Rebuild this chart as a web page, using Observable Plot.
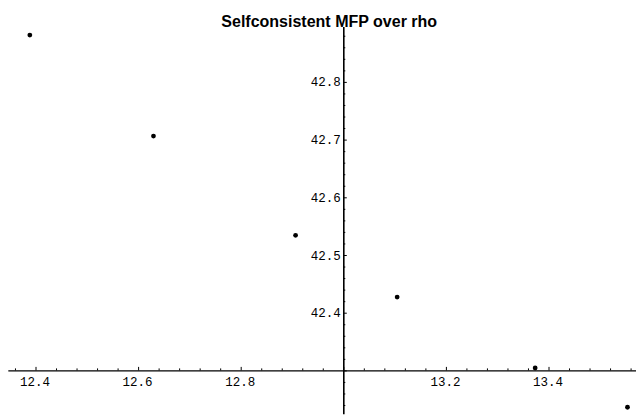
<!DOCTYPE html>
<html>
<head>
<meta charset="utf-8">
<script src="https://cdn.jsdelivr.net/npm/d3@7"></script>
<script src="https://cdn.jsdelivr.net/npm/@observablehq/plot@0.6"></script>
<style>
  html, body { margin: 0; padding: 0; background: #fff; }
  #chart svg { display: block; }
</style>
</head>
<body>
<div id="chart"></div>
<script>
// Data
const title = "Selfconsistent MFP over rho";
const rho = [12.388, 12.629, 12.906, 13.104, 13.373, 13.553];
const mfp = [42.882, 42.707, 42.535, 42.428, 42.305, 42.237];

// Axes (crossing at rho = 13.0, MFP = 42.3)
const axisOrigin = {x: 13.0, y: 42.3};
const xAxisExtent = [12.347, 13.575];
const yAxisExtent = [42.224, 42.895];
const xTickLabels = [12.4, 12.6, 12.8, 13.2, 13.4];
const xMajorTicks = [12.4, 12.6, 12.8, 13.0, 13.2, 13.4];
const xMinorTicks = [12.36, 12.44, 12.48, 12.52, 12.56, 12.64, 12.68, 12.72, 12.76, 12.84, 12.88, 12.92, 12.96,
                     13.04, 13.08, 13.12, 13.16, 13.24, 13.28, 13.32, 13.36, 13.44, 13.48, 13.52, 13.56];
const yTickLabels = [42.4, 42.5, 42.6, 42.7, 42.8];
const yMajorTicks = [42.3, 42.4, 42.5, 42.6, 42.7, 42.8];
const yMinorTicks = [42.24, 42.26, 42.28, 42.32, 42.34, 42.36, 42.38, 42.42, 42.44, 42.46, 42.48,
                     42.52, 42.54, 42.56, 42.58, 42.62, 42.64, 42.66, 42.68, 42.72, 42.74, 42.76, 42.78,
                     42.82, 42.84, 42.86, 42.88];

const points = rho.map((r, i) => ({rho: r, mfp: mfp[i]}));

// scale geometry (pixels per unit)
const xPx = 513, yPx = 577;
const xRange0 = 343.3, yRange0 = 370.4;

const mono = "'Liberation Mono', 'Courier New', monospace";

const chart = Plot.plot({
  width: 636,
  height: 417,
  margin: 0,
  style: {background: "#fff", color: "#000"},
  x: {type: "linear", domain: [13, 14], range: [xRange0, xRange0 + xPx], axis: null},
  y: {type: "linear", domain: [42.3, 43.3], range: [yRange0, yRange0 - yPx], axis: null},
  marks: [
    // axis lines
    Plot.ruleY([axisOrigin.y], {x1: xAxisExtent[0], x2: xAxisExtent[1], stroke: "#000", strokeWidth: 1.4}),
    Plot.ruleX([axisOrigin.x], {y1: yAxisExtent[0], y2: yAxisExtent[1], stroke: "#000", strokeWidth: 1.6}),
    // x ticks (upward)
    Plot.ruleX(xMajorTicks, {x: d => d, y1: axisOrigin.y, y2: axisOrigin.y + 3.5 / yPx, stroke: "#000", strokeWidth: 1}),
    Plot.ruleX(xMinorTicks, {x: d => d, y1: axisOrigin.y, y2: axisOrigin.y + 2 / yPx, stroke: "#000", strokeWidth: 1}),
    // y ticks (rightward)
    Plot.ruleY(yMajorTicks, {y: d => d, x1: axisOrigin.x, x2: axisOrigin.x + 3.5 / xPx, stroke: "#000", strokeWidth: 1}),
    Plot.ruleY(yMinorTicks, {y: d => d, x1: axisOrigin.x, x2: axisOrigin.x + 2 / xPx, stroke: "#000", strokeWidth: 1}),
    // tick labels
    Plot.text(xTickLabels, {x: d => d, y: axisOrigin.y, text: d => d.toFixed(1), dy: 11, dx: -1,
      fontFamily: mono, fontSize: 12.5, fill: "#000"}),
    Plot.text(yTickLabels, {y: d => d, x: axisOrigin.x, text: d => d.toFixed(1), dx: -3, textAnchor: "end",
      fontFamily: mono, fontSize: 12.5, fill: "#000"}),
    // data points
    Plot.dot(points, {x: "rho", y: "mfp", r: 2.4, fill: "#000", stroke: "none"}),
    // title
    Plot.text([title], {frameAnchor: "top", dx: 10.7, dy: 15, fontFamily: "'Liberation Sans', Arial, sans-serif",
      fontSize: 16, fontWeight: "bold", fill: "#000"})
  ]
});

document.getElementById("chart").appendChild(chart);
</script>
</body>
</html>
